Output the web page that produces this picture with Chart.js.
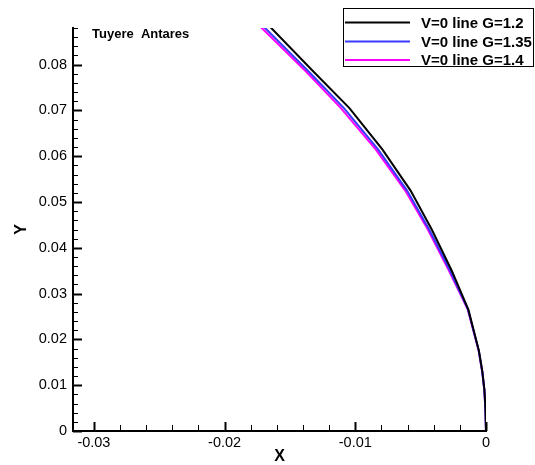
<!DOCTYPE html>
<html>
<head>
<meta charset="utf-8">
<script src="https://cdn.jsdelivr.net/npm/chart.js@4"></script>
<style>
  html, body { margin: 0; padding: 0; background: #fff; }
</style>
</head>
<body>
<canvas id="tuyere" width="535" height="465"></canvas>
<script>
// V=0 lines, nozzle profile (x, y) for three gamma values
const yNodes = [0.0905, 0.0785, 0.0705, 0.0615, 0.0525, 0.0440, 0.0350, 0.0265, 0.0175, 0.0130, 0.0090, 0.0050, 0];
const xG12   = [-0.01728, -0.01321, -0.01045, -0.00793, -0.00577, -0.00415, -0.00262, -0.00135, -0.00054, -0.00028, -0.00012, -0.00004, 0];
const xG135  = [-0.01778, -0.01357, -0.01087, -0.00826, -0.00604, -0.00435, -0.00275, -0.00137, -0.00055, -0.00029, -0.00013, -0.00005, 0];
const xG14   = [-0.01805, -0.01377, -0.01110, -0.00844, -0.00618, -0.00445, -0.00283, -0.00139, -0.00056, -0.00029, -0.00013, -0.00005, 0];

const seriesNames  = ['V=0 line G=1.2', 'V=0 line G=1.35', 'V=0 line G=1.4'];
const seriesColors = ['#000000', '#3a3aff', '#ff00ff'];

const xTickValues = [-0.03, -0.02, -0.01, 0];
const yTickValues = [0, 0.01, 0.02, 0.03, 0.04, 0.05, 0.06, 0.07, 0.08];
const minorStep = 0.002;

const FONT = '"Liberation Sans", Arial, sans-serif';

function toPoints(xs) {
  return xs.map((x, i) => ({ x: x, y: yNodes[i] }));
}

function fmt(v) {
  const s = parseFloat(v.toFixed(4));
  return s === 0 ? '0' : String(s);
}

// ticks drawn inward from the axis lines (major + minor)
const innerTicks = {
  id: 'innerTicks',
  afterDatasetsDraw(chart) {
    const ctx = chart.ctx;
    const xs = chart.scales.x, ys = chart.scales.y;
    const area = chart.chartArea;
    ctx.save();
    ctx.strokeStyle = '#000';

    const drawX = (v, len, w) => {
      const px = Math.round(xs.getPixelForValue(v)) + 0.5;
      ctx.lineWidth = w;
      ctx.beginPath();
      ctx.moveTo(px, area.bottom);
      ctx.lineTo(px, area.bottom - len);
      ctx.stroke();
    };
    const drawY = (v, len, w) => {
      const py = Math.round(ys.getPixelForValue(v)) + 0.5;
      ctx.lineWidth = w;
      ctx.beginPath();
      ctx.moveTo(area.left, py);
      ctx.lineTo(area.left + len, py);
      ctx.stroke();
    };

    for (let k = Math.ceil(xs.min / minorStep); k * minorStep <= xs.max + 1e-9; k++) {
      const v = k * minorStep;
      const major = Math.abs(k % 5) === 0;
      drawX(v, major ? 9 : 6, major ? 2 : 1);
    }
    for (let k = Math.ceil(ys.min / minorStep); k * minorStep <= ys.max + 1e-9; k++) {
      const v = k * minorStep;
      const major = Math.abs(k % 5) === 0;
      drawY(v, major ? 9 : 5, major ? 2 : 1);
    }
    ctx.restore();
  }
};

// framed legend in the top right corner and the case label
const legendBox = {
  id: 'legendBox',
  afterDraw(chart) {
    const ctx = chart.ctx;
    ctx.save();
    ctx.fillStyle = '#fff';
    ctx.fillRect(343, 8, 192, 59);
    ctx.strokeStyle = '#000';
    ctx.lineWidth = 1;
    ctx.strokeRect(343.5, 8.5, 190, 58);

    const rows = [22.5, 41.5, 60];
    ctx.font = 'bold 15px ' + FONT;
    ctx.textBaseline = 'middle';
    ctx.textAlign = 'left';
    chart.data.datasets.forEach((ds, i) => {
      ctx.strokeStyle = ds.borderColor;
      ctx.lineWidth = 2;
      ctx.beginPath();
      ctx.moveTo(345, rows[i]);
      ctx.lineTo(410, rows[i]);
      ctx.stroke();
      ctx.fillStyle = '#000';
      ctx.fillText(ds.label, 421, rows[i] + 1);
    });

    ctx.font = 'bold 13px ' + FONT;
    ctx.fillText('Tuyere  Antares', 92, 34);
    ctx.restore();
  }
};

new Chart(document.getElementById('tuyere'), {
  type: 'scatter',
  data: {
    datasets: [xG12, xG135, xG14].map((xs, i) => ({
      label: seriesNames[i],
      data: toPoints(xs),
      showLine: true,
      borderColor: seriesColors[i],
      backgroundColor: seriesColors[i],
      borderWidth: 2,
      pointRadius: 0,
      tension: 0
    }))
  },
  options: {
    responsive: false,
    animation: false,
    layout: { padding: { top: 28, right: 49, left: 0, bottom: 0 } },
    plugins: {
      legend: { display: false },
      tooltip: { enabled: false }
    },
    scales: {
      x: {
        type: 'linear',
        min: -0.0316,
        max: 0,
        afterFit: s => { s.height = 34; },
        afterBuildTicks: s => { s.ticks = xTickValues.map(v => ({ value: v })); },
        grid: { display: true, drawOnChartArea: false, drawTicks: false },
        border: { display: true, color: '#000', width: 2 },
        ticks: {
          color: '#000',
          font: { family: FONT, size: 14.5 },
          padding: 3,
          maxRotation: 0,
          callback: v => fmt(v)
        },
        title: {
          display: true,
          text: 'X',
          color: '#000',
          font: { family: FONT, size: 16, weight: 'bold', lineHeight: 1 },
          padding: { top: 0, bottom: 0 }
        }
      },
      y: {
        type: 'linear',
        min: 0,
        max: 0.088,
        afterFit: s => { s.width = 73; },
        afterBuildTicks: s => { s.ticks = yTickValues.map(v => ({ value: v })); },
        grid: { display: true, drawOnChartArea: false, drawTicks: false },
        border: { display: true, color: '#000', width: 2 },
        ticks: {
          color: '#000',
          font: { family: FONT, size: 14.5 },
          padding: 6,
          callback: v => fmt(v)
        },
        title: {
          display: true,
          text: 'Y',
          color: '#000',
          font: { family: FONT, size: 16, weight: 'bold', lineHeight: 1.2 },
          padding: { top: 12, bottom: 0 }
        }
      }
    }
  },
  plugins: [innerTicks, legendBox]
});
</script>
</body>
</html>
